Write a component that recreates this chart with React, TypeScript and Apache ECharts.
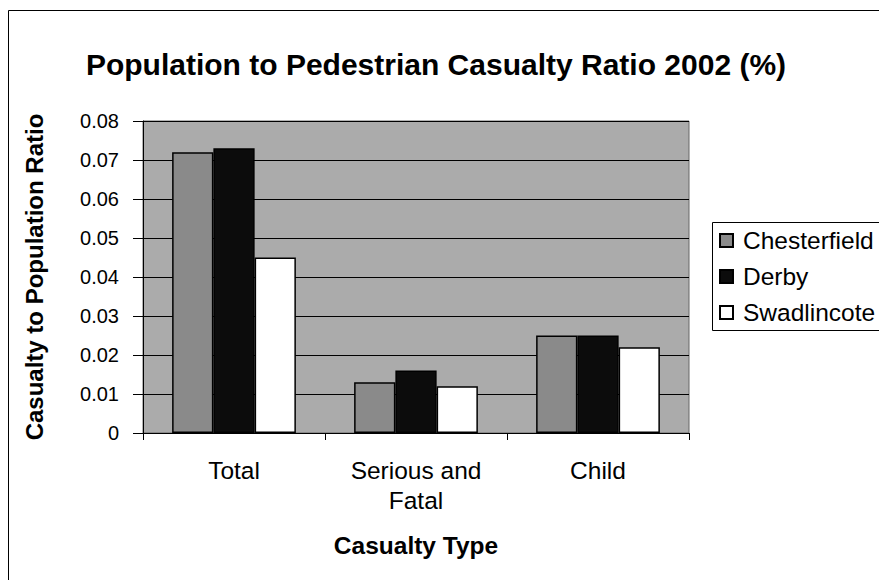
import React, { useEffect, useRef } from "react";
import * as echarts from "echarts";

const categories = ["Total", "Serious and\nFatal", "Child"];
const chesterfield = [0.072, 0.013, 0.025];
const derby = [0.073, 0.016, 0.025];
const swadlincote = [0.045, 0.012, 0.022];
const seriesNames = ["Chesterfield", "Derby", "Swadlincote"];

const FONT = "Liberation Sans, Arial, sans-serif";

export default function App() {
  const ref = useRef<HTMLDivElement>(null);
  useEffect(() => {
    if (!ref.current) return;
    const chart = echarts.init(ref.current, undefined, { renderer: "svg" });
    const barStyle = (color: string) => ({ color, borderColor: "#000", borderWidth: 1.5 });
    chart.setOption({
      animation: false,
      backgroundColor: "#fff",
      title: {
        text: "Population to Pedestrian Casualty Ratio 2002 (%)",
        left: 431,
        top: 44,
        textAlign: "center",
        textStyle: { fontFamily: FONT, fontSize: 30, fontWeight: "bold", color: "#000" },
      },
      grid: {
        left: 143,
        right: 190,
        top: 121,
        bottom: 147,
        show: true,
        backgroundColor: "#ababab",
        borderColor: "#666",
        borderWidth: 1,
      },
      legend: {
        orient: "vertical",
        left: 719,
        top: 228,
        padding: 0,
        itemGap: 11,
        itemWidth: 13,
        itemHeight: 13,
        icon: "rect",
        textStyle: { fontFamily: FONT, fontSize: 24.5, color: "#000", padding: [0, 0, 0, 5] },
        data: seriesNames,
      },
      xAxis: {
        type: "category",
        data: categories,
        name: "Casualty Type",
        nameLocation: "middle",
        nameGap: 100,
        nameTextStyle: { fontFamily: FONT, fontSize: 24.5, fontWeight: "bold", color: "#000" },
        axisLine: { lineStyle: { color: "#000", width: 1 } },
        axisTick: { show: true, length: 7, lineStyle: { color: "#000" } },
        axisLabel: { fontFamily: FONT, fontSize: 24.5, color: "#000", margin: 22, lineHeight: 30 },
      },
      yAxis: {
        type: "value",
        min: 0,
        max: 0.08,
        interval: 0.01,
        name: "Casualty to Population Ratio",
        nameLocation: "middle",
        nameGap: 97,
        nameTextStyle: { fontFamily: FONT, fontSize: 24, fontWeight: "bold", color: "#000" },
        axisLine: { show: true, lineStyle: { color: "#000", width: 1 } },
        axisTick: { show: true, length: 10, lineStyle: { color: "#000" } },
        axisLabel: { fontFamily: FONT, fontSize: 20, color: "#000", margin: 24 },
        splitLine: { show: true, lineStyle: { color: "#000", width: 1 } },
      },
      graphic: [
        {
          type: "rect",
          shape: { x: 8.5, y: 10.5, width: 900, height: 600 },
          style: { fill: "none", stroke: "#000", lineWidth: 1 },
          silent: true,
        },
        {
          type: "rect",
          shape: { x: 712.5, y: 222.5, width: 200, height: 108 },
          style: { fill: "none", stroke: "#000", lineWidth: 1 },
          silent: true,
        },
      ],
      series: [
        { name: seriesNames[0], type: "bar", data: chesterfield, barGap: "0%", barCategoryGap: "32%", itemStyle: barStyle("#8a8a8a") },
        { name: seriesNames[1], type: "bar", data: derby, barGap: "0%", barCategoryGap: "32%", itemStyle: barStyle("#0c0c0c") },
        { name: seriesNames[2], type: "bar", data: swadlincote, barGap: "0%", barCategoryGap: "32%", itemStyle: barStyle("#ffffff") },
      ],
    });
    return () => chart.dispose();
  }, []);
  return (
    <div
      ref={ref}
      style={{ position: "fixed", left: 0, top: 0, width: 879, height: 580 }}
    />
  );
}
